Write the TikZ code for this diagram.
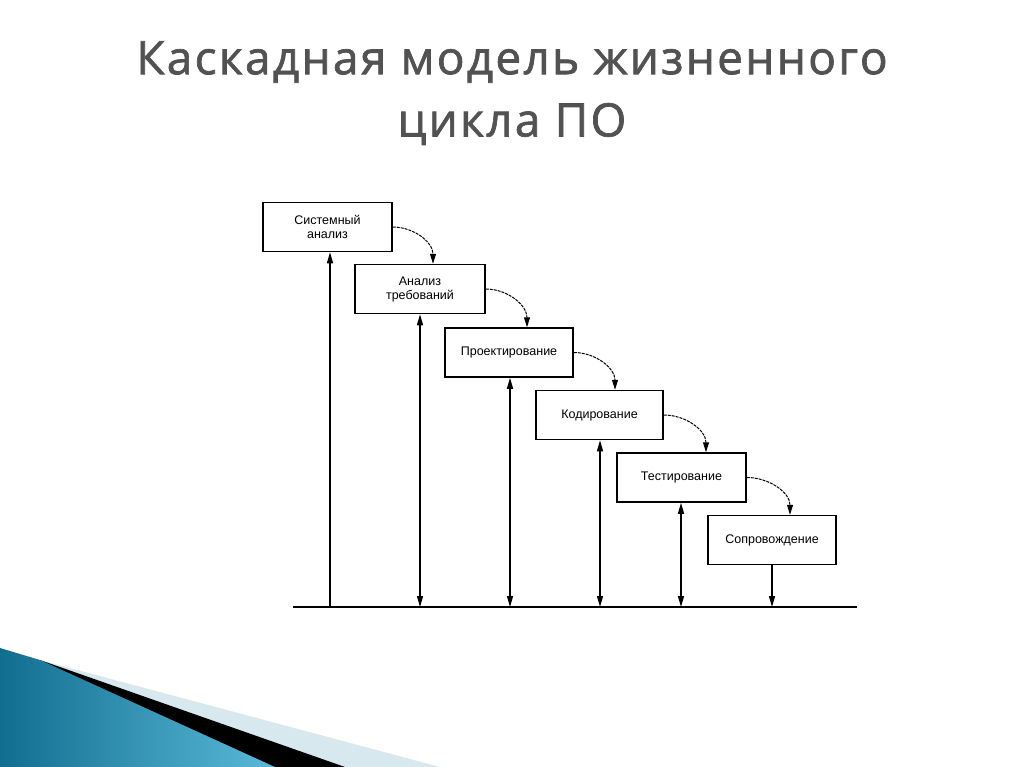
\documentclass[tikz,border=0pt]{standalone}
\usepackage{fontspec}
\setmainfont{Liberation Sans}
\newfontfamily\titlefont[LetterSpace=5,FakeBold=1.5]{Open Sans}
\usetikzlibrary{arrows.meta}
\definecolor{tealA}{RGB}{18,110,145}
\definecolor{tealB}{RGB}{90,185,215}
\definecolor{paleB}{RGB}{215,232,238}
\begin{document}
\begin{tikzpicture}[x=1pt,y=-1pt,
  stage/.style={draw,line width=1.5pt,minimum height=49pt,inner sep=1pt,font=\fontsize{12.5}{14}\selectfont,align=center,text width=122pt},
  tip/.style={-{Triangle[length=11pt,width=6pt]}},
  both/.style={{Triangle[length=11pt,width=6pt]}-{Triangle[length=11pt,width=6pt]}},
  flow/.style={-{Triangle[length=10pt,width=6pt]},dash pattern=on 3pt off 1pt,line width=1pt},
  vline/.style={line width=1.4pt}]
\useasboundingbox (0,0) rectangle (1024,767);
\fill[white] (0,0) rectangle (1024,767);
% decoration
\fill[paleB] (40,660) -- (440,767) -- (330,767) -- cycle;
\fill[black] (40,660) -- (345,767) -- (260,767) -- cycle;
\shade[left color=tealA, right color=tealB] (0,648) -- (40,660) -- (275,767) -- (0,767) -- cycle;
% title
\node[font=\titlefont\fontsize{46}{52}\selectfont,text=black!68] (t1) at (512,62) {Каскадная модель жизненного};
\node[font=\titlefont\fontsize{46}{52}\selectfont,text=black!68] (t2) at (512,124) {цикла ПО};
% stages
\node[stage,minimum width=129pt,text width=110pt] (s1) at (327.5,227) {Системный\\анализ};
\node[stage,minimum width=130pt,text width=110pt] (s2) at (420,289) {Анализ\\требований};
\node[stage,minimum width=128pt] (s3) at (509,352.5) {Проектирование};
\node[stage,minimum width=127pt] (s4) at (599.5,415) {Кодирование};
\node[stage,minimum width=129pt] (s5) at (681.5,477.5) {Тестирование};
\node[stage,minimum width=128pt] (s6) at (772,540) {Сопровождение};
% base line
\coordinate (b0) at (293,607);
\coordinate (b1) at (857,607);
\draw[line width=1.8pt] (b0) -- (b1);
\foreach \i/\x in {1/330,2/420,3/510,4/600,5/681,6/772}{
  \coordinate (g\i) at (\x,607);}
\draw[vline,tip] (g1) -- (g1 |- s1.south);
\draw[vline,both] (g2) -- (g2 |- s2.south);
\draw[vline,both] (g3) -- (g3 |- s3.south);
\draw[vline,both] (g4) -- (g4 |- s4.south);
\draw[vline,both] (g5) -- (g5 |- s5.south);
\draw[vline,tip] (s6.south) -- (g6);
% flow arrows
\foreach \a/\b/\xx in {s1/s2/433,s2/s3/527,s3/s4/615,s4/s5/706,s5/s6/790}{
  \draw[flow] (\a.east) to[out=0,in=90] (\xx,0 |- \b.north);}
\end{tikzpicture}
\end{document}
